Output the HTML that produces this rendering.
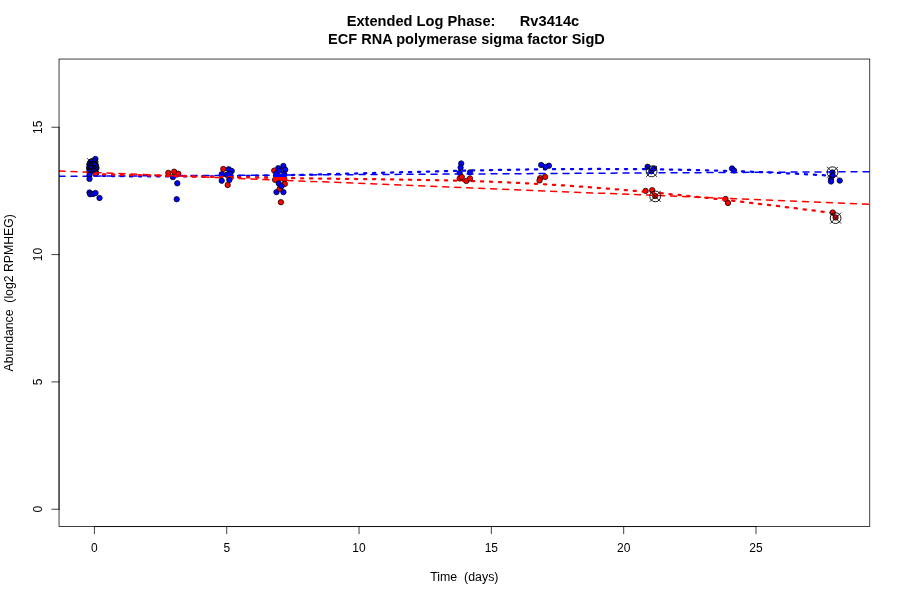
<!DOCTYPE html>
<html><head><meta charset="utf-8"><title>Extended Log Phase: Rv3414c</title>
<style>html,body{margin:0;padding:0;background:#fff;width:900px;height:600px;overflow:hidden}</style></head>
<body>
<svg width="900" height="600" viewBox="0 0 900 600" style="position:absolute;left:0;top:0">
<rect width="900" height="600" fill="#fff"/>
<defs><clipPath id="pc"><rect x="59.04" y="59.04" width="810.72" height="467.5199999999999"/></clipPath></defs>
<g stroke="#000" stroke-width="0.75">
<circle cx="91.00" cy="161.90" r="2.7" fill="#0000ff"/>
<circle cx="94.00" cy="161.70" r="2.7" fill="#0000ff"/>
<circle cx="89.40" cy="164.70" r="2.7" fill="#0000ff"/>
<circle cx="92.40" cy="164.90" r="2.7" fill="#0000ff"/>
<circle cx="95.40" cy="165.10" r="2.7" fill="#0000ff"/>
<circle cx="89.10" cy="167.90" r="2.7" fill="#0000ff"/>
<circle cx="91.90" cy="168.10" r="2.7" fill="#0000ff"/>
<circle cx="94.70" cy="168.40" r="2.7" fill="#0000ff"/>
<circle cx="96.50" cy="168.00" r="2.7" fill="#0000ff"/>
<circle cx="89.40" cy="170.90" r="2.7" fill="#0000ff"/>
<circle cx="92.50" cy="171.30" r="2.7" fill="#0000ff"/>
<circle cx="95.40" cy="171.50" r="2.7" fill="#0000ff"/>
<circle cx="96.20" cy="172.90" r="2.7" fill="#0000ff"/>
<circle cx="95.40" cy="159.00" r="2.7" fill="#0000ff"/>
<circle cx="172.90" cy="177.10" r="2.7" fill="#0000ff"/>
<circle cx="168.30" cy="172.90" r="2.7" fill="#ff0000"/>
<circle cx="174.20" cy="171.70" r="2.7" fill="#ff0000"/>
<circle cx="178.30" cy="173.75" r="2.7" fill="#ff0000"/>
<circle cx="223.30" cy="169.00" r="2.7" fill="#ff0000"/>
<circle cx="228.70" cy="169.30" r="2.7" fill="#0000ff"/>
<circle cx="231.70" cy="171.00" r="2.7" fill="#0000ff"/>
<circle cx="221.70" cy="174.30" r="2.7" fill="#0000ff"/>
<circle cx="226.70" cy="174.70" r="2.7" fill="#0000ff"/>
<circle cx="230.00" cy="174.30" r="2.7" fill="#0000ff"/>
<circle cx="230.70" cy="177.30" r="2.7" fill="#ff0000"/>
<circle cx="274.20" cy="170.60" r="2.7" fill="#ff0000"/>
<circle cx="276.50" cy="173.30" r="2.7" fill="#0000ff"/>
<circle cx="275.10" cy="179.80" r="2.7" fill="#ff0000"/>
<circle cx="279.70" cy="178.00" r="2.7" fill="#ff0000"/>
<circle cx="284.30" cy="179.30" r="2.7" fill="#ff0000"/>
<circle cx="283.40" cy="166.00" r="2.7" fill="#0000ff"/>
<circle cx="278.20" cy="168.20" r="2.7" fill="#0000ff"/>
<circle cx="279.70" cy="170.60" r="2.7" fill="#0000ff"/>
<circle cx="285.20" cy="169.70" r="2.7" fill="#0000ff"/>
<circle cx="284.30" cy="174.30" r="2.7" fill="#0000ff"/>
<circle cx="459.70" cy="172.90" r="2.7" fill="#0000ff"/>
<circle cx="470.00" cy="172.40" r="2.7" fill="#0000ff"/>
<circle cx="647.60" cy="166.80" r="2.7" fill="#0000ff"/>
<circle cx="654.00" cy="168.40" r="2.7" fill="#0000ff"/>
<circle cx="651.30" cy="171.30" r="2.7" fill="#0000ff"/>
<circle cx="645.60" cy="190.90" r="2.7" fill="#ff0000"/>
<circle cx="652.20" cy="190.20" r="2.7" fill="#ff0000"/>
<circle cx="655.10" cy="196.00" r="2.7" fill="#ff0000"/>
<circle cx="732.00" cy="168.50" r="2.7" fill="#0000ff"/>
<circle cx="734.00" cy="170.50" r="2.7" fill="#0000ff"/>
<circle cx="725.50" cy="199.00" r="2.7" fill="#ff0000"/>
<circle cx="728.00" cy="203.00" r="2.7" fill="#ff0000"/>
<circle cx="832.50" cy="172.50" r="2.7" fill="#0000ff"/>
<circle cx="832.50" cy="175.60" r="2.7" fill="#0000ff"/>
</g>
<g fill="none" stroke-linecap="round" clip-path="url(#pc)">
<line x1="59.04" y1="176.35" x2="869.76" y2="171.65" stroke="#0000ff" stroke-width="1.5" stroke-dasharray="6 6"/>
<polyline points="94.00,175.72 103.27,175.90 112.53,176.06 121.80,176.19 131.07,176.29 140.34,176.37 149.60,176.43 158.87,176.47 168.14,176.48 177.41,176.48 186.68,176.45 195.94,176.40 205.21,176.34 214.48,176.26 223.75,176.16 233.01,176.05 242.28,175.92 251.55,175.78 260.81,175.63 270.08,175.46 279.35,175.28 288.62,175.09 297.88,174.89 307.15,174.69 316.42,174.47 325.69,174.25 334.95,174.02 344.22,173.78 353.49,173.54 362.76,173.30 372.02,173.05 381.29,172.80 390.56,172.55 399.83,172.31 409.09,172.06 418.36,171.81 427.63,171.57 436.90,171.33 446.17,171.10 455.43,170.88 464.70,170.66 473.97,170.45 483.24,170.25 492.50,170.07 501.77,169.90 511.04,169.74 520.31,169.59 529.57,169.46 538.84,169.34 548.11,169.24 557.38,169.16 566.64,169.09 575.91,169.04 585.18,169.01 594.44,168.99 603.71,168.99 612.98,169.02 622.25,169.05 631.51,169.11 640.78,169.19 650.05,169.29 659.32,169.41 668.58,169.55 677.85,169.71 687.12,169.89 696.39,170.09 705.65,170.31 714.92,170.56 724.19,170.83 733.46,171.13 742.73,171.44 751.99,171.79 761.26,172.15 770.53,172.54 779.79,172.96 789.06,173.40 798.33,173.87 807.60,174.37 816.87,174.89 826.13,175.44 835.40,176.01" stroke="#0000ff" stroke-width="2.25" stroke-dasharray="2.25 6.75"/>
<line x1="59.04" y1="171.1" x2="869.76" y2="204.2" stroke="#ff0000" stroke-width="1.5" stroke-dasharray="6 6"/>
<polyline points="94.00,174.13 103.27,174.36 112.53,174.58 121.80,174.81 131.07,175.03 140.34,175.24 149.60,175.45 158.87,175.66 168.14,175.86 177.41,176.06 186.68,176.26 195.94,176.45 205.21,176.63 214.48,176.81 223.75,176.99 233.01,177.17 242.28,177.33 251.55,177.50 260.81,177.66 270.08,177.81 279.35,177.96 288.62,178.10 297.88,178.24 307.15,178.38 316.42,178.51 325.69,178.63 334.95,178.75 344.22,178.86 353.49,178.98 362.76,179.09 372.02,179.20 381.29,179.32 390.56,179.45 399.83,179.58 409.09,179.73 418.36,179.88 427.63,180.05 436.90,180.24 446.17,180.45 455.43,180.67 464.70,180.92 473.97,181.20 483.24,181.50 492.50,181.83 501.77,182.19 511.04,182.58 520.31,183.01 529.57,183.47 538.84,183.97 548.11,184.49 557.38,185.05 566.64,185.64 575.91,186.26 585.18,186.91 594.44,187.59 603.71,188.30 612.98,189.03 622.25,189.80 631.51,190.59 640.78,191.40 650.05,192.25 659.32,193.11 668.58,194.00 677.85,194.91 687.12,195.85 696.39,196.81 705.65,197.79 714.92,198.79 724.19,199.81 733.46,200.85 742.73,201.91 751.99,202.99 761.26,204.09 770.53,205.20 779.79,206.33 789.06,207.47 798.33,208.63 807.60,209.81 816.87,210.99 826.13,212.20 835.40,213.41" stroke="#ff0000" stroke-width="2.25" stroke-dasharray="2.25 6.75"/>
</g>
<rect x="273.1" y="174.2" width="13.5" height="2.8" fill="#0000ff"/><rect x="273.1" y="177" width="13.5" height="3.3" fill="#ff0000"/>
<g stroke="#000" stroke-width="0.75">
<circle cx="89.50" cy="175.00" r="2.7" fill="#0000ff"/>
<circle cx="89.50" cy="178.90" r="2.7" fill="#0000ff"/>
<circle cx="89.50" cy="192.50" r="2.7" fill="#0000ff"/>
<circle cx="90.20" cy="194.20" r="2.7" fill="#0000ff"/>
<circle cx="93.00" cy="194.00" r="2.7" fill="#0000ff"/>
<circle cx="95.50" cy="193.00" r="2.7" fill="#0000ff"/>
<circle cx="99.50" cy="198.00" r="2.7" fill="#0000ff"/>
<circle cx="177.30" cy="183.30" r="2.7" fill="#0000ff"/>
<circle cx="176.70" cy="199.20" r="2.7" fill="#0000ff"/>
<circle cx="221.70" cy="180.70" r="2.7" fill="#0000ff"/>
<circle cx="229.30" cy="180.00" r="2.7" fill="#0000ff"/>
<circle cx="227.70" cy="185.00" r="2.7" fill="#ff0000"/>
<circle cx="284.80" cy="183.90" r="2.7" fill="#ff0000"/>
<circle cx="278.80" cy="183.40" r="2.7" fill="#0000ff"/>
<circle cx="276.50" cy="192.10" r="2.7" fill="#0000ff"/>
<circle cx="283.40" cy="192.10" r="2.7" fill="#0000ff"/>
<circle cx="279.70" cy="188.70" r="2.7" fill="#ff0000"/>
<circle cx="281.50" cy="186.20" r="2.7" fill="#0000ff"/>
<circle cx="280.90" cy="202.20" r="2.7" fill="#ff0000"/>
<circle cx="461.20" cy="163.50" r="2.7" fill="#0000ff"/>
<circle cx="460.60" cy="167.60" r="2.7" fill="#0000ff"/>
<circle cx="459.70" cy="178.50" r="2.7" fill="#ff0000"/>
<circle cx="461.80" cy="177.00" r="2.7" fill="#ff0000"/>
<circle cx="466.30" cy="180.90" r="2.7" fill="#ff0000"/>
<circle cx="470.00" cy="178.50" r="2.7" fill="#ff0000"/>
<circle cx="541.20" cy="165.00" r="2.7" fill="#0000ff"/>
<circle cx="548.90" cy="165.75" r="2.7" fill="#0000ff"/>
<circle cx="545.50" cy="166.90" r="2.7" fill="#0000ff"/>
<circle cx="545.10" cy="176.90" r="2.7" fill="#ff0000"/>
<circle cx="540.25" cy="178.10" r="2.7" fill="#ff0000"/>
<circle cx="539.50" cy="180.40" r="2.7" fill="#ff0000"/>
<circle cx="831.00" cy="179.40" r="2.7" fill="#0000ff"/>
<circle cx="831.00" cy="181.50" r="2.7" fill="#0000ff"/>
<circle cx="839.75" cy="180.60" r="2.7" fill="#0000ff"/>
<circle cx="832.75" cy="212.50" r="2.7" fill="#ff0000"/>
<circle cx="835.60" cy="217.50" r="2.7" fill="#ff0000"/>
</g>
<g stroke="#000" stroke-width="0.9" fill="none">
<circle cx="651.6" cy="171.4" r="5.4"/><path d="M646.2 166.0L657.0 176.8M646.2 176.8L657.0 166.0"/>
<circle cx="655.2" cy="196.4" r="5.4"/><path d="M649.8000000000001 191.0L660.6 201.8M649.8000000000001 201.8L660.6 191.0"/>
<circle cx="832.5" cy="172.25" r="5.4"/><path d="M827.1 166.85L837.9 177.65M827.1 177.65L837.9 166.85"/>
<circle cx="835.6" cy="218.1" r="5.4"/><path d="M830.2 212.7L841.0 223.5M830.2 223.5L841.0 212.7"/>
<circle cx="92.6" cy="163.8" r="5.4"/><path d="M87.19999999999999 158.4L98.0 169.20000000000002M87.19999999999999 169.20000000000002L98.0 158.4"/>
<circle cx="93.2" cy="166.8" r="5.4"/><path d="M87.8 161.4L98.60000000000001 172.20000000000002M87.8 172.20000000000002L98.60000000000001 161.4"/>
</g>
<g stroke="#000" stroke-width="0.75" fill="none" stroke-linecap="round">
<rect x="59.04" y="59.04" width="810.72" height="467.5199999999999"/>
<path d="M94.40 526.56L756.00 526.56"/>
<path d="M94.40 526.56L94.40 533.76"/>
<path d="M226.72 526.56L226.72 533.76"/>
<path d="M359.04 526.56L359.04 533.76"/>
<path d="M491.36 526.56L491.36 533.76"/>
<path d="M623.68 526.56L623.68 533.76"/>
<path d="M756.00 526.56L756.00 533.76"/>
<path d="M59.04 509.24L59.04 127.26"/>
<path d="M59.04 509.24L51.839999999999996 509.24"/>
<path d="M59.04 381.92L51.839999999999996 381.92"/>
<path d="M59.04 254.59L51.839999999999996 254.59"/>
<path d="M59.04 127.26L51.839999999999996 127.26"/>
</g>
<g font-family="'Liberation Sans', Arial, sans-serif" font-size="12" fill="#000" text-anchor="middle">
<text x="94.40" y="552.1">0</text>
<text x="226.72" y="552.1">5</text>
<text x="359.04" y="552.1">10</text>
<text x="491.36" y="552.1">15</text>
<text x="623.68" y="552.1">20</text>
<text x="756.00" y="552.1">25</text>
<text transform="translate(42.3,509.24) rotate(-90)">0</text>
<text transform="translate(42.3,381.92) rotate(-90)">5</text>
<text transform="translate(42.3,254.59) rotate(-90)">10</text>
<text transform="translate(42.3,127.26) rotate(-90)">15</text>
<text x="464.35" y="580.9" textLength="68.3" lengthAdjust="spacingAndGlyphs">Time&#160;&#160;(days)</text>
<text transform="translate(12.8,292.85) rotate(-90)" textLength="157.2" lengthAdjust="spacingAndGlyphs">Abundance&#160;&#160;(log2 RPMHEG)</text>
</g>
<g font-family="'Liberation Sans', Arial, sans-serif" font-size="14.4" font-weight="bold" fill="#000" text-anchor="middle">
<text x="462.95" y="25.7" textLength="232.5" lengthAdjust="spacingAndGlyphs">Extended Log Phase:&#160;&#160;&#160;&#160;&#160; Rv3414c</text>
<text x="466.45" y="43.8" textLength="276.7" lengthAdjust="spacingAndGlyphs">ECF RNA polymerase sigma factor SigD</text>
</g>
</svg>
</body></html>
